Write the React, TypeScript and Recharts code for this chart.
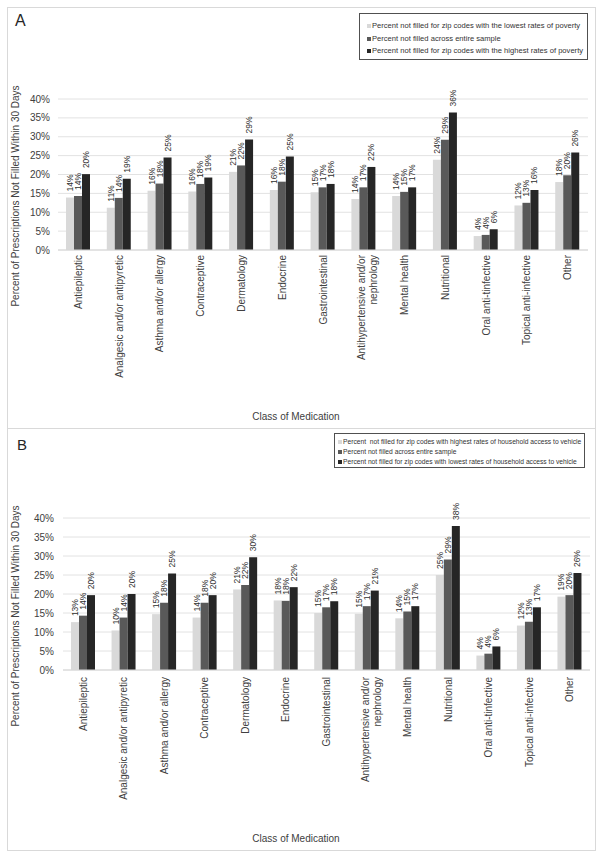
import React from 'react';
import { BarChart, Bar, XAxis, YAxis, CartesianGrid, Legend, LabelList, Label } from 'recharts';

const categories = [
  'Antiepileptic',
  'Analgesic and/or antipyretic',
  'Asthma and/or allergy',
  'Contraceptive',
  'Dermatology',
  'Endocrine',
  'Gastrointestinal',
  'Antihypertensive and/or nephrology',
  'Mental health',
  'Nutritional',
  'Oral anti-tinfective',
  'Topical anti-infective',
  'Other',
];

const yTicks = [0, 5, 10, 15, 20, 25, 30, 35, 40];

// Panel A (poverty)
const aLowPoverty = [13.9, 11.2, 15.7, 15.5, 20.7, 15.9, 15.3, 13.5, 14.3, 23.9, 3.7, 11.8, 18.0];
const aEntireSample = [14.3, 13.8, 17.6, 17.5, 22.4, 18.1, 16.6, 16.6, 15.4, 29.2, 4.0, 12.5, 19.8];
const aHighPoverty = [20.1, 18.9, 24.5, 19.2, 29.3, 24.8, 17.5, 22.0, 16.6, 36.4, 5.5, 15.9, 25.8];
const aNames = [
  'Percent not filled for zip codes with the lowest rates of poverty',
  'Percent not filled across entire sample',
  'Percent not filled for zip codes with the highest rates of poverty',
];

// Panel B (vehicle access)
const bHighAccess = [12.6, 10.4, 14.7, 13.8, 21.2, 18.3, 15.0, 14.8, 13.6, 25.0, 3.8, 11.7, 19.3];
const bEntireSample = [14.3, 13.8, 17.7, 17.7, 22.4, 18.2, 16.5, 16.8, 15.4, 29.1, 4.3, 12.7, 19.7];
const bLowAccess = [19.7, 20.0, 25.4, 19.7, 29.7, 21.8, 18.1, 20.9, 16.8, 37.9, 6.2, 16.5, 25.5];
const bNames = [
  'Percent  not filled for zip codes with highest rates of household access to vehicle',
  'Percent not filled across entire sample',
  'Percent not filled for zip codes with lowest rates of household access to vehicle',
];

const seriesKeys = ['s1', 's2', 's3'];
const seriesColors = ['#d9d9d9', '#595959', '#262626'];

const yAxisTitle = 'Percent of Prescriptions Not Filled Within 30 Days';
const xAxisTitle = 'Class of Medication';

const dataA = categories.map((c, i) => ({ name: c, s1: aLowPoverty[i], s2: aEntireSample[i], s3: aHighPoverty[i] }));
const dataB = categories.map((c, i) => ({ name: c, s1: bHighAccess[i], s2: bEntireSample[i], s3: bLowAccess[i] }));

const FONT = '"Liberation Sans", Arial, sans-serif';

const wrapLabel = (s: string): string[] => {
  if (s.length <= 30) return [s];
  const idx = s.lastIndexOf(' ', 30);
  return [s.slice(0, idx), s.slice(idx + 1)];
};

const CatTick = (props: any) => {
  const { x, y, payload } = props;
  const lines = wrapLabel(String(payload.value));
  const offs = lines.length === 1 ? [0] : [-2, 10];
  return (
    <g>
      {lines.map((ln, i) => (
        <text
          key={i}
          transform={`translate(${x + offs[i]},${y}) rotate(-90)`}
          textAnchor="end"
          dominantBaseline="central"
          fontSize={10}
          fontFamily={FONT}
          fill="#404040"
        >
          {ln}
        </text>
      ))}
    </g>
  );
};

const BarValueLabel = (props: any) => {
  const { x, y, width, value } = props;
  const cx = Number(x) + Number(width) / 2;
  return (
    <text
      transform={`translate(${cx},${Number(y) - 6}) rotate(-90)`}
      textAnchor="start"
      dominantBaseline="central"
      fontSize={8.5}
      fontFamily={FONT}
      fill="#303030"
    >
      {`${Math.round(Number(value))}%`}
    </text>
  );
};

const makeLegend = (cfg: { w: number; h: number; top0: number; step: number; markerX: number; textX: number; fs: number }) => (props: any) => {
  const payload = [...(props.payload || [])].sort(
    (a: any, b: any) => seriesKeys.indexOf(String(a.dataKey)) - seriesKeys.indexOf(String(b.dataKey))
  );
  return (
    <div
      style={{
        width: cfg.w,
        height: cfg.h,
        border: '1px solid #505050',
        boxSizing: 'border-box',
        position: 'relative',
        background: '#fff',
        fontFamily: FONT,
      }}
    >
      {payload.map((p: any, i: number) => (
        <div
          key={i}
          style={{
            position: 'absolute',
            left: 0,
            top: cfg.top0 + i * cfg.step - cfg.step / 2,
            height: cfg.step,
            width: cfg.w,
            whiteSpace: 'pre',
            fontSize: cfg.fs,
            color: '#333',
          }}
        >
          <span
            style={{
              position: 'absolute',
              left: cfg.markerX,
              top: cfg.step / 2 - 2,
              width: 4,
              height: 4,
              background: p.color,
            }}
          />
          <span style={{ position: 'absolute', left: cfg.textX, lineHeight: `${cfg.step}px`, top: 0 }}>{p.value}</span>
        </div>
      ))}
    </div>
  );
};

type PanelProps = {
  data: any[];
  names: string[];
  width: number;
  height: number;
  margin: { top: number; right: number; bottom: number; left: number };
  yAxisWidth: number;
  yTickMargin: number;
  xTickMargin: number;
  yTitleY: number;
  xTitleY: number;
  legendPos: { left: number; top: number };
  legendCfg: { w: number; h: number; top0: number; step: number; markerX: number; textX: number; fs: number };
};

const Panel = (p: PanelProps) => (
  <BarChart
    width={p.width}
    height={p.height}
    data={p.data}
    margin={p.margin}
    barGap={0}
    barSize={8}
    style={{ fontFamily: FONT }}
  >
    <CartesianGrid vertical={false} stroke="#e2e2e2" />
    <XAxis
      dataKey="name"
      interval={0}
      height={150}
      tickLine={false}
      tickSize={0}
      tickMargin={p.xTickMargin}
      axisLine={{ stroke: '#d6d6d6' }}
      tick={<CatTick />}
    >
      <Label
        content={() => (
          <text x={296} y={p.xTitleY} textAnchor="middle" dominantBaseline="central" fontSize={10} fontFamily={FONT} fill="#404040">
            {xAxisTitle}
          </text>
        )}
      />
    </XAxis>
    <YAxis
      width={p.yAxisWidth}
      domain={[0, 40]}
      ticks={yTicks}
      interval={0}
      tickFormatter={(v: number) => `${v}%`}
      axisLine={false}
      tickLine={false}
      tickSize={0}
      tickMargin={p.yTickMargin}
      tick={{ fontSize: 10, fill: '#404040', fontFamily: FONT }}
    >
      <Label
        content={() => (
          <text
            transform={`translate(15,${p.yTitleY}) rotate(-90)`}
            textAnchor="middle"
            dominantBaseline="central"
            fontSize={10}
            fontFamily={FONT}
            fill="#404040"
          >
            {yAxisTitle}
          </text>
        )}
      />
    </YAxis>
    <Legend
      layout="horizontal"
      verticalAlign="middle"
      align="center"
      wrapperStyle={{ left: p.legendPos.left, top: p.legendPos.top, width: p.legendCfg.w, height: p.legendCfg.h }}
      content={makeLegend(p.legendCfg)}
    />
    {seriesKeys.map((k, i) => (
      <Bar key={k} dataKey={k} name={p.names[i]} fill={seriesColors[i]} isAnimationActive={false}>
        <LabelList dataKey={k} content={<BarValueLabel />} />
      </Bar>
    ))}
  </BarChart>
);

export default function App() {
  return (
    <div style={{ position: 'absolute', left: 0, top: 0, width: 604, height: 859, background: '#fff', fontFamily: FONT }}>
      <div style={{ position: 'absolute', left: 7, top: 7, width: 589, height: 422, border: '1px solid #d9d9d9', boxSizing: 'border-box' }} />
      <div style={{ position: 'absolute', left: 7, top: 428, width: 589, height: 423, border: '1px solid #d9d9d9', boxSizing: 'border-box' }} />
      <div style={{ position: 'absolute', left: 0, top: 0 }}>
        <Panel
          data={dataA}
          names={aNames}
          width={604}
          height={428}
          margin={{ top: 99, right: 16, bottom: 28, left: 8 }}
          yAxisWidth={50}
          yTickMargin={8}
          xTickMargin={5}
          yTitleY={196}
          xTitleY={416}
          legendPos={{ left: 359, top: 13 }}
          legendCfg={{ w: 229, h: 47, top0: 12.5, step: 12.3, markerX: 7, textX: 12, fs: 7.6 }}
        />
      </div>
      <div style={{ position: 'absolute', left: 0, top: 428 }}>
        <Panel
          data={dataB}
          names={bNames}
          width={604}
          height={431}
          margin={{ top: 90, right: 14, bottom: 39, left: 9 }}
          yAxisWidth={54}
          yTickMargin={9}
          xTickMargin={7}
          yTitleY={188}
          xTitleY={410}
          legendPos={{ left: 334, top: 5 }}
          legendCfg={{ w: 251, h: 35, top0: 7.5, step: 10, markerX: 3, textX: 8, fs: 6.7 }}
        />
      </div>
      <div style={{ position: 'absolute', left: 15, top: 12, fontSize: 16, fontFamily: FONT, color: '#262626', lineHeight: '18px' }}>A</div>
      <div style={{ position: 'absolute', left: 17, top: 436, fontSize: 15, fontFamily: FONT, color: '#262626', lineHeight: '17px' }}>B</div>
    </div>
  );
}
